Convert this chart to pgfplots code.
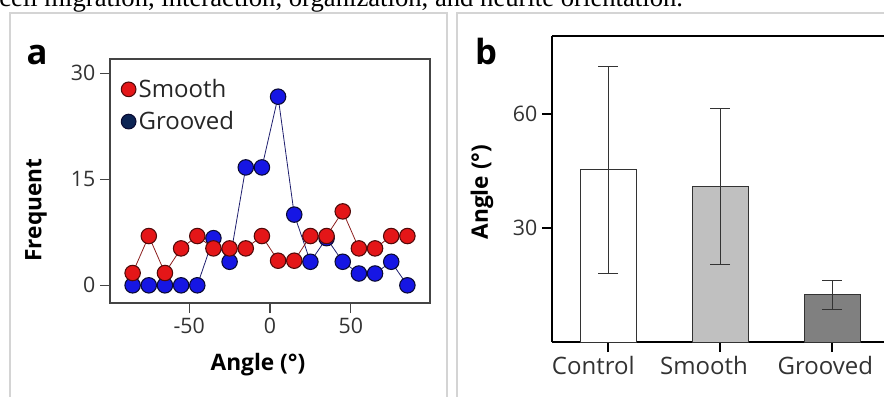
\documentclass[border=0pt]{standalone}
\usepackage{fontspec}
\setmainfont{Open Sans}
\newfontfamily\seriffont{Liberation Serif}
\usepackage{pgfplots}
\pgfplotsset{compat=1.18}
\definecolor{smoothred}{RGB}{228,22,24}
\definecolor{smoothedge}{RGB}{80,10,10}
\definecolor{groovblue}{RGB}{22,22,228}
\definecolor{groovedge}{RGB}{10,10,50}
\definecolor{groovnavy}{RGB}{12,36,84}
\definecolor{redline}{RGB}{140,30,30}
\definecolor{blueline}{RGB}{30,30,110}
\definecolor{framegray}{RGB}{68,68,68}
\definecolor{panelgray}{RGB}{212,212,212}
\definecolor{ticktext}{RGB}{50,50,50}
\definecolor{baredge}{RGB}{51,51,51}
\definecolor{smoothbar}{RGB}{192,192,192}
\definecolor{groovbar}{RGB}{128,128,128}
\begin{document}
\begin{tikzpicture}[x=0.75pt,y=0.75pt]
\useasboundingbox (0,0) rectangle (884,396);
\node[anchor=base west, inner sep=0pt, font=\seriffont\fontsize{20}{24}\selectfont] at (-1,389) {cell migration, interaction, organization, and neurite orientation.};
\draw[panelgray, line width=1.5pt] (10,-5) -- (10,383) -- (447,383) -- (447,-5);
\draw[panelgray, line width=1.5pt] (457,-5) -- (457,383) -- (900,383);
\node[anchor=base, inner sep=0pt, font=\bfseries\fontsize{26}{30}\selectfont] at (37,331) {a};
\node[anchor=base, inner sep=0pt, font=\bfseries\fontsize{26}{30}\selectfont] at (486,331) {b};

\begin{axis}[at={(82.5pt,69.75pt)}, anchor=south west, scale only axis,
  width=240pt, height=183pt,
  xmin=-99, xmax=99, ymin=-2.5, ymax=32,
  xtick={-50,0,50}, xticklabels={-50,0,50},
  ytick={0,15,30}, yticklabels={0,15,30},
  tick align=outside, major tick length=7.5pt, xtick pos=bottom, ytick pos=left,
  axis line style={framegray, line width=0.9pt},
  tick style={framegray, line width=0.9pt},
  ticklabel style={font=\fontsize{16}{19}\selectfont, text=ticktext},
  xlabel={Angle (°)}, ylabel={Frequent},
  label style={font=\bfseries\fontsize{17}{20}\selectfont},
  xlabel style={at={(axis description cs:0.4625,-0.254)}, anchor=center},
  ylabel style={at={(axis description cs:-0.231,0.381)}, anchor=center},
  legend style={at={(axis description cs:0.022,0.94)}, anchor=north west, draw=none, fill=none,
    font=\fontsize{18}{21}\selectfont, text=black!85, row sep=5pt},
  legend cell align=left,
  clip=false,
]
\addlegendimage{only marks, mark=*, mark size=5.5pt, mark options={fill=smoothred, draw=smoothedge, line width=0.8pt}}
\addlegendentry{Smooth}
\addlegendimage{only marks, mark=*, mark size=5.5pt, mark options={fill=groovnavy, draw=groovedge, line width=0.8pt}}
\addlegendentry{Grooved}
\addplot[forget plot, blueline, line width=0.6pt, mark=*, mark size=5.8pt,
  mark options={fill=groovblue, draw=groovedge, line width=0.8pt, solid}]
  coordinates {(-85,0) (-75,0) (-65,0) (-55,0) (-45,0) (-35,6.67) (-25,3.33) (-15,16.67) (-5,16.67)
  (5,26.67) (15,10) (25,3.33) (35,6.67) (45,3.33) (55,1.67) (65,1.67) (75,3.33) (85,0)};
\addplot[forget plot, redline, line width=0.6pt, mark=*, mark size=5.8pt,
  mark options={fill=smoothred, draw=smoothedge, line width=0.8pt, solid}]
  coordinates {(-85,1.74) (-75,6.97) (-65,1.74) (-55,5.22) (-45,6.97) (-35,5.22) (-25,5.22) (-15,5.22) (-5,6.97)
  (5,3.48) (15,3.48) (25,6.97) (35,6.97) (45,10.45) (55,5.22) (65,5.22) (75,6.97) (85,6.97)};
\end{axis}

\begin{axis}[at={(414pt,40.5pt)}, anchor=south west, scale only axis,
  width=249pt, height=229.5pt,
  xmin=-0.5, xmax=2.464, ymin=0, ymax=80.5,
  axis x line*=bottom, axis y line*=left,
  axis line style={black, line width=1.5pt, -},
  xtick={0,1,2}, xticklabels={Control\kern22pt,Smooth\kern24pt,Grooved\kern10pt},
  ytick={30,60}, yticklabels={30,60},
  tick align=outside, major tick length=7.5pt,
  tick style={black, line width=1.5pt},
  xticklabel style={font=\fontsize{18}{21}\selectfont, text=ticktext},
  yticklabel style={font=\fontsize{16}{19}\selectfont, text=ticktext},
  ylabel={Angle (°)},
  ylabel style={font=\bfseries\fontsize{17}{20}\selectfont, at={(axis description cs:-0.211,0.49)}, anchor=center},
  ybar, bar width=42pt, bar shift=0pt,
  clip=false,
]
\addplot[fill=white, draw=baredge, line width=0.75pt,
  error bars/.cd, y dir=both, y explicit,
  error bar style={line width=0.75pt, draw=baredge},
  error mark options={rotate=90, mark size=7.5pt, line width=0.75pt, draw=baredge}]
  coordinates {(0,45.3) +- (0,27.3)};
\addplot[fill=smoothbar, draw=baredge, line width=0.75pt,
  error bars/.cd, y dir=both, y explicit,
  error bar style={line width=0.75pt, draw=baredge},
  error mark options={rotate=90, mark size=7.5pt, line width=0.75pt, draw=baredge}]
  coordinates {(1,40.9) +- (0,20.6)};
\addplot[fill=groovbar, draw=baredge, line width=0.75pt,
  error bars/.cd, y dir=both, y explicit,
  error bar style={line width=0.75pt, draw=baredge},
  error mark options={rotate=90, mark size=7.5pt, line width=0.75pt, draw=baredge}]
  coordinates {(2,12.4) +- (0,3.9)};
\draw[black, line width=1.5pt] (rel axis cs:0,1) -- (rel axis cs:1.05,1);
\end{axis}
\end{tikzpicture}
\end{document}
